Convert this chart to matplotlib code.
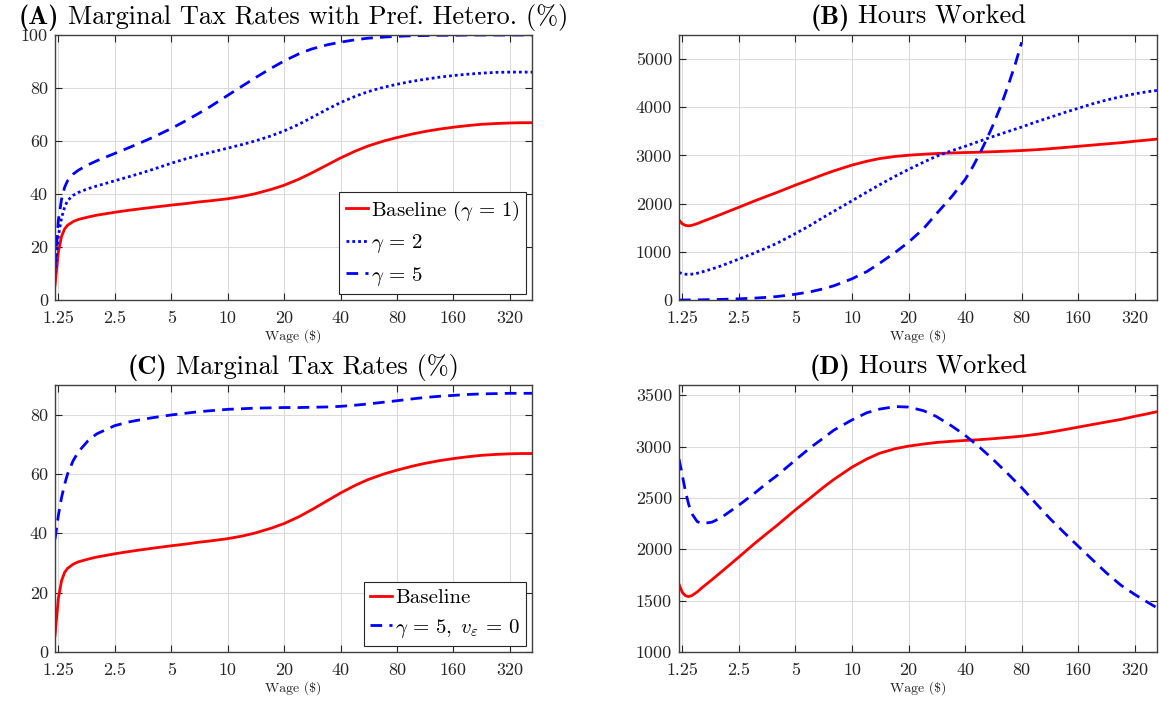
import matplotlib
matplotlib.use('Agg')
import matplotlib.pyplot as plt
from matplotlib.offsetbox import TextArea, HPacker, AnchoredOffsetbox

plt.rcParams['font.family'] = 'cmr10'
plt.rcParams['mathtext.fontset'] = 'cm'
plt.rcParams['axes.unicode_minus'] = False

# wage grid (dollars per hour)
wage = [1.2, 1.25, 1.3, 1.35, 1.4, 1.5, 1.6, 1.8, 2.0, 2.5, 3, 3.5, 4, 5, 6,
        7, 8, 10, 12, 14, 17, 20, 24, 28, 34, 40, 48, 56, 68, 80, 96, 113,
        135, 160, 190, 226, 270, 320, 370, 420]

# marginal tax rates (%)
mtr_base = [5.5, 18, 24, 26.8, 28.2, 29.6, 30.4, 31.3, 32, 33.1, 33.9, 34.5,
            35, 35.8, 36.4, 37, 37.4, 38.2, 39.1, 40.1, 41.7, 43.3, 45.6, 47.9,
            51, 53.6, 56.2, 58.1, 60, 61.3, 62.6, 63.6, 64.5, 65.2, 65.8, 66.3,
            66.6, 66.8, 66.9, 66.9]
mtr_g2 = [10, 24, 31, 35, 37.5, 39.5, 40.6, 42, 43, 45, 46.6, 48, 49.3, 51.6,
          53.3, 54.6, 55.6, 57.3, 58.7, 60, 61.9, 63.8, 66.3, 68.8, 72, 74.5,
          76.9, 78.6, 80.3, 81.4, 82.5, 83.3, 84.1, 84.7, 85.2, 85.6, 85.9, 86,
          86, 86]
mtr_g5 = [13, 30, 38, 42.5, 45, 47.5, 49, 51, 52.5, 55.3, 57.6, 59.6, 61.4,
          64.7, 67.7, 70.4, 72.8, 77.2, 80.8, 83.8, 87.4, 90.2, 92.9, 94.7,
          96.3, 97.3, 98.2, 98.8, 99.2, 99.5, 99.7, 99.8, 99.9, 99.9, 100, 100,
          100, 100, 100, 100]
mtr_g5_v0 = [38, 46, 52, 56.5, 60, 64.5, 67.5, 71.2, 73.5, 76.3, 77.6, 78.4,
             79, 79.9, 80.5, 81, 81.3, 81.8, 82, 82.2, 82.3, 82.4, 82.4, 82.5,
             82.6, 82.8, 83.2, 83.6, 84.2, 84.7, 85.3, 85.8, 86.2, 86.5, 86.8,
             87, 87.1, 87.2, 87.2, 87.2]

# hours worked
hrs_base = [1660, 1580, 1548, 1540, 1548, 1585, 1630, 1705, 1775, 1925, 2050,
            2150, 2235, 2385, 2500, 2600, 2680, 2800, 2880, 2935, 2980, 3005,
            3025, 3040, 3052, 3060, 3068, 3077, 3090, 3102, 3120, 3140, 3165,
            3190, 3215, 3240, 3265, 3295, 3318, 3340]
hrs_g2 = [570, 548, 535, 532, 536, 555, 585, 645, 705, 850, 970, 1080, 1180,
          1380, 1550, 1710, 1840, 2060, 2240, 2390, 2570, 2710, 2860, 2980,
          3100, 3190, 3300, 3390, 3500, 3590, 3700, 3790, 3890, 3980, 4070,
          4150, 4220, 4280, 4320, 4350]
hrs_g5_v0 = [2880, 2720, 2560, 2440, 2350, 2270, 2250, 2265, 2305, 2430, 2540,
             2640, 2720, 2870, 2990, 3080, 3160, 3260, 3330, 3365, 3390, 3385,
             3350, 3295, 3200, 3110, 2990, 2880, 2730, 2600, 2440, 2300, 2160,
             2030, 1900, 1770, 1650, 1560, 1490, 1430]

# gamma = 5 hours explode, series stops at $80
wage_g5 = [1.2, 1.25, 1.4, 1.6, 2.0, 2.5, 3, 3.5, 4, 5, 6, 7, 8, 10, 12, 14,
           17, 20, 24, 28, 34, 40, 44, 48, 52, 56, 62, 68, 74, 80]
hrs_g5 = [0, 0, 2, 5, 12, 25, 38, 55, 72, 120, 170, 230, 295, 440, 590, 760,
          990, 1200, 1480, 1780, 2150, 2500, 2770, 3050, 3330, 3610, 4030,
          4470, 4900, 5350]

xticks = [1.25, 2.5, 5, 10, 20, 40, 80, 160, 320]
xticklabels = ['1.25', '2.5', '5', '10', '20', '40', '80', '160', '320']

W, H = 1159, 702
fig = plt.figure(figsize=(W / 100, H / 100), dpi=100)


def make_ax(x0, y0, x1, y1):
    ax = fig.add_axes([x0 / W, 1 - y1 / H, (x1 - x0) / W, (y1 - y0) / H])
    ax.set_xscale('log', base=2)
    ax.set_xlim(1.2, 420)
    ax.set_xticks(xticks)
    ax.set_xticklabels(xticklabels)
    ax.minorticks_off()
    ax.grid(True, color='0.86', lw=0.8)
    ax.set_axisbelow(True)
    ax.tick_params(direction='in', top=True, right=True, length=5, width=0.8,
                   labelsize=13, colors='0.15')
    ax.tick_params(axis='x', pad=8)
    ax.tick_params(axis='y', pad=5)
    for s in ax.spines.values():
        s.set_color('0.25')
        s.set_linewidth(1.0)
    ax.set_xlabel(r'Wage (\$)', fontsize=10, color='0.15', labelpad=2)
    return ax


def title(ax, letter, text):
    # bold panel letter followed by the regular-weight title
    bold = TextArea('(' + letter + ')', textprops=dict(family='cmb10', size=19))
    rest = TextArea(text, textprops=dict(size=19))
    box = HPacker(children=[bold, rest], align='baseline', pad=0, sep=6)
    ab = AnchoredOffsetbox(loc='lower center', child=box, pad=0, borderpad=0.3,
                           prop=dict(size=10), frameon=False,
                           bbox_to_anchor=(0.5, 1.0),
                           bbox_transform=ax.transAxes)
    ax.add_artist(ab)


RED = dict(color='red', lw=2.0)
DOT = dict(color='blue', lw=2.0, dashes=(1, 1.1))
DASH = dict(color='blue', lw=2.0, dashes=(4.2, 2.6))
leg_kw = dict(loc='lower right', fontsize=15, handlelength=1.05,
              handletextpad=0.15, borderaxespad=0.3, borderpad=0.3,
              labelspacing=0.45, fancybox=False, framealpha=1,
              edgecolor='0.15')

# (A) marginal tax rates with preference heterogeneity
axA = make_ax(55, 35, 532, 300)
axA.plot(wage, mtr_base, label=r'Baseline ($\gamma\,=\,1$)', **RED)
axA.plot(wage, mtr_g2, label=r'$\gamma\,=\,2$', **DOT)
axA.plot(wage, mtr_g5, label=r'$\gamma\,=\,5$', **DASH)
axA.set_ylim(0, 100)
axA.set_yticks([0, 20, 40, 60, 80, 100])
title(axA, 'A', 'Marginal Tax Rates with Pref. Hetero. (%)')
axA.legend(**leg_kw).get_frame().set_linewidth(0.8)

# (B) hours worked with preference heterogeneity
axB = make_ax(679, 35, 1157, 300)
axB.plot(wage, hrs_base, **RED)
axB.plot(wage, hrs_g2, **DOT)
axB.plot(wage_g5, hrs_g5, **DASH)
axB.set_ylim(0, 5500)
axB.set_yticks([0, 1000, 2000, 3000, 4000, 5000])
title(axB, 'B', 'Hours Worked')

# (C) marginal tax rates
axC = make_ax(55, 385, 532, 652)
axC.plot(wage, mtr_base, label='Baseline', **RED)
axC.plot(wage, mtr_g5_v0, label=r'$\gamma\,=\,5,\;v_\varepsilon\,=\,0$', **DASH)
axC.set_ylim(0, 90)
axC.set_yticks([0, 20, 40, 60, 80])
title(axC, 'C', 'Marginal Tax Rates (%)')
axC.legend(**leg_kw).get_frame().set_linewidth(0.8)

# (D) hours worked
axD = make_ax(679, 385, 1157, 652)
axD.plot(wage, hrs_base, **RED)
axD.plot(wage, hrs_g5_v0, **DASH)
axD.set_ylim(1000, 3600)
axD.set_yticks([1000, 1500, 2000, 2500, 3000, 3500])
title(axD, 'D', 'Hours Worked')

fig.savefig('out.png', dpi=100)
